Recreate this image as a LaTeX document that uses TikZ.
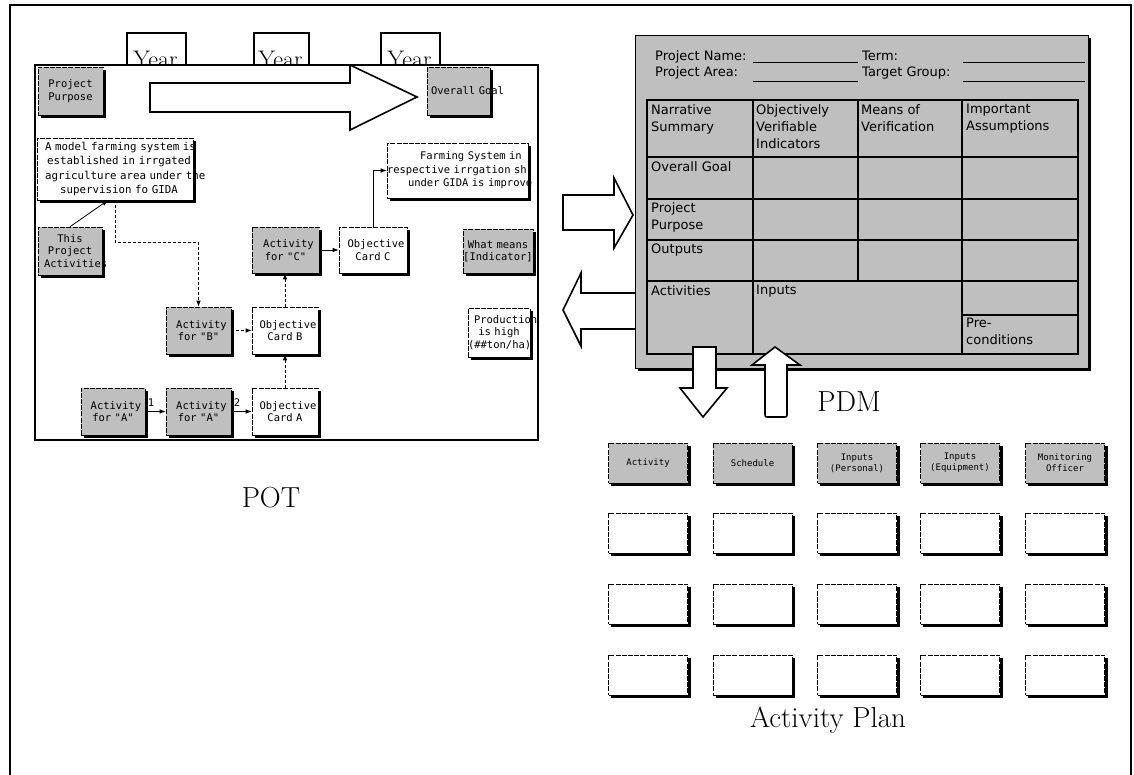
\documentclass[tikz,border=0pt]{standalone}
\usepackage{fontspec}
\newfontfamily\cardfont{DejaVu Sans Mono}
\newfontfamily\pdmfont{DejaVu Sans}
\usetikzlibrary{arrows.meta}

% black drop shadow along the right and bottom edges of a card
\newcommand\dropshade[1]{%
  \fill ([yshift=-3pt]#1.north east) rectangle ([xshift=3pt,yshift=-3pt]#1.south east);
  \fill ([xshift=3pt]#1.south west) rectangle ([xshift=3pt,yshift=-3pt]#1.south east);}

\tikzset{
  card/.style={draw, line width=0.6pt, dash pattern=on 5pt off 1.2pt, inner sep=0pt,
    font=\cardfont\fontsize{10.5}{12.5}\selectfont, align=center},
  dotcard/.style={card, fill=black!25},
  plaincard/.style={card, fill=white},
  wh/.style 2 args={minimum width=#1, minimum height=#2, text width=#1},
  link/.style={line width=0.8pt, -{Latex[length=6pt,width=4.5pt]}},
  dlink/.style={link, dash pattern=on 3pt off 2pt},
  hollow/.style={draw, line width=1.6pt, fill=white, line join=miter},
  title/.style={font=\fontsize{29}{30}\selectfont, anchor=base, inner sep=0pt},
  yearbox/.style={draw, line width=1.6pt},
  pdmtext/.style={font=\pdmfont\fontsize{13}{17}\selectfont, align=left, anchor=north west, inner sep=0pt},
  pdmhead/.style={font=\pdmfont\fontsize{13}{17}\selectfont, anchor=base west, inner sep=0pt},
  apcard/.style={card, minimum width=79pt, minimum height=40pt, font=\cardfont\fontsize{9}{11}\selectfont},
}

\begin{document}
\begin{tikzpicture}[x=1pt,y=-1pt]
\useasboundingbox (0,0) rectangle (1134,775);

% page frame, open at the bottom
\draw[line width=2pt] (10,775) -- (10,5) -- (1131,5) -- (1131,775);

% ================= POT =================
\foreach \xa/\xb [count=\i] in {127/186,254/309,381/440} {
  \draw[yearbox] (\xa,65) -- (\xa,33) -- (\xb,33) -- (\xb,65);
  \node[font=\fontsize{24}{24}\selectfont, anchor=base, inner sep=0pt] (year\i) at ({(\xa+\xb)/2-1},68) {Year};
}
\draw[line width=2pt, fill=white] (35,65) rectangle (538,440);

\begin{scope}
\clip (36,66) rectangle (537,439);
% time arrow
\draw[hollow] (150,83) -- (350,83) -- (350,65) -- (417,97) -- (350,130) -- (350,112) -- (150,112) -- cycle;

\node[dotcard, wh={65pt}{48pt}] (pp) at (70.5,91) {Project\\Purpose};
\node[dotcard, wh={63pt}{48pt}, align=left] (og) at (458.5,91) {\mbox{\hspace*{4pt}Overall Goal}};
\node[plaincard, wh={156pt}{62pt}, font=\cardfont\fontsize{10.8}{14.5}\selectfont] (model) at (115,169)
  {\mbox{\hspace*{8pt}A model farming system is}\\\mbox{\hspace*{8pt}established in irrgated}\\\mbox{\hspace*{8pt}agriculture area under the}\\\mbox{\hspace*{8pt}supervision fo GIDA}};
\node[plaincard, wh={141pt}{55pt}, align=left, font=\cardfont\fontsize{10.5}{13.5}\selectfont] (fs) at (457.5,170.5)
  {\mbox{\hspace*{33pt}Farming System in}\\\mbox{respective irrgation sh}\\\mbox{\hspace*{21pt}under GIDA is improve}};
\node[dotcard, wh={64pt}{48pt}] (tpa) at (70,251) {This\\Project\\\mbox{\hspace*{6pt}Activities}};
\node[dotcard, wh={67pt}{46pt}] (actC) at (285.5,250) {\hspace*{6pt}Activity\\for "C"};
\node[plaincard, wh={68pt}{46pt}] (objC) at (373,250) {\hspace*{6pt}Objective\\Card C};
\node[dotcard, wh={70pt}{44pt}] (wm) at (498,251) {\mbox{What means}\\\mbox{[Indicator]}};
\node[dotcard, wh={65pt}{47pt}] (actB) at (198.5,330.5) {\hspace*{6pt}Activity\\for "B"};
\node[plaincard, wh={66pt}{47pt}] (objB) at (285,330.5) {\hspace*{6pt}Objective\\Card B};
\node[plaincard, wh={62pt}{49pt}] (prod) at (499,332.5) {\mbox{\hspace*{6pt}Production}\\is high\\\mbox{(\#\#ton/ha)}};
\node[dotcard, wh={64pt}{47pt}] (actA1) at (113,411.5) {\hspace*{6pt}Activity\\for "A"};
\node[dotcard, wh={65pt}{47pt}] (actA2) at (198.5,411.5) {\hspace*{6pt}Activity\\for "A"};
\node[plaincard, wh={66pt}{47pt}] (objA) at (285,411.5) {\hspace*{6pt}Objective\\Card A};
\foreach \n in {pp,og,model,fs,tpa,actC,objC,wm,actB,objB,prod,actA1,actA2,objA} {\dropshade{\n}}
\node[font=\cardfont\fontsize{10.5}{12}\selectfont, inner sep=0pt] (n1) at (151,403) {1};
\node[font=\cardfont\fontsize{10.5}{12}\selectfont, inner sep=0pt] (n2) at (237,403) {2};

% links between the cards
\draw[link] (tpa.north) -- ([xshift=-7pt]model.south);
\draw[dlink] (model.south) -- ++(0,42) -| (actB.north);
\draw[dlink] (actB) -- (objB);
\draw[dlink] (objB.north) -- (objB.north |- actC.south);
\draw[dlink] (objA) -- (objB);
\draw[link] (actC) -- (objC);
\draw[link] (objC.north) |- (fs.west);
\draw[link] (actA1) -- (actA2);
\draw[link] (actA2) -- (objA);
\end{scope}

\node[title] (potlabel) at (271,507) {POT};

% ================= arrows between POT and PDM =================
\draw[hollow] (563,195) -- (614,195) -- (614,178) -- (633,215) -- (614,248) -- (614,230) -- (563,230) -- cycle;
\draw[hollow] (635,293) -- (581,293) -- (581,273) -- (563,310) -- (581,346) -- (581,329) -- (635,329);

% ================= PDM =================
\fill (638,38) rectangle (1091,371);
\draw[line width=0.8pt, fill=black!25] (635,35) rectangle (1088,368);

\node[pdmhead] (pname) at (655,61) {Project Name:};
\node[pdmhead] (parea) at (655,77) {Project Area:};
\node[pdmhead] (pterm) at (862,61) {Term:};
\node[pdmhead] (pgroup) at (862,77) {Target Group:};
\draw[line width=0.9pt] (753,62) -- (858,62) (963,62) -- (1085,62);
\draw[line width=0.9pt] (753,81) -- (858,81) (963,81) -- (1085,81);

% logframe table
\draw[line width=1.8pt] (647,100) rectangle (1078,354);
\draw[line width=1.8pt] (647,157) -- (1078,157);
\draw[line width=1.2pt] (647,199) -- (1078,199);
\draw[line width=1.2pt] (647,240) -- (1078,240);
\draw[line width=1.8pt] (647,281) -- (1078,281);
\draw[line width=1.4pt] (753,100) -- (753,354);
\draw[line width=1.8pt] (858,100) -- (858,281);
\draw[line width=1.4pt] (962,100) -- (962,354);
\draw[line width=1.2pt] (962,315) -- (1078,315);

\node[pdmtext] (c11) at (651,104) {Narrative\\Summary};
\node[pdmtext] (c12) at (756,104) {Objectively\\Verifiable\\Indicators};
\node[pdmtext] (c13) at (861,104) {Means of\\Verification};
\node[pdmtext] (c14) at (966,104) {Important\\Assumptions};
\node[pdmtext] (c21) at (651,161) {Overall Goal};
\node[pdmtext] (c31) at (651,202) {Project\\Purpose};
\node[pdmtext] (c41) at (651,244) {Outputs};
\node[pdmtext] (c51) at (651,285) {Activities};
\node[pdmtext] (c52) at (756,285) {Inputs};
\node[pdmtext] (c54) at (966,318) {Pre-\\conditions};

% arrows between PDM and the activity plan
\draw[hollow] (693,347) -- (716,347) -- (716,388) -- (727,388) -- (703,417) -- (680,388) -- (693,388) -- cycle;
\draw[hollow] (765,365) -- (752,365) -- (775,347) -- (800,365) -- (787,365) -- (787,413)
  .. controls (787,417) .. (783,417) -- (769,417) .. controls (765,417) .. (765,413) -- cycle;

\node[title] (pdmlabel) at (849,411) {PDM};

% ================= Activity Plan =================
\foreach \xc/\txt [count=\col] in {648/Activity,752.5/Schedule,857/{Inputs\\(Personal)},960/{Inputs\\(Equipment)},1065/{Monitoring\\Officer}} {
  \node[apcard, fill=black!25] (aph-\col) at (\xc,463) {\txt};
  \dropshade{aph-\col}
  \foreach \yr [count=\row] in {533,604,675} {
    \node[apcard, fill=white] (ap-\row-\col) at (\xc,\yr) {};
    \dropshade{ap-\row-\col}
  }
}

\node[title] (aplabel) at (828,727) {Activity Plan};
\end{tikzpicture}
\end{document}
